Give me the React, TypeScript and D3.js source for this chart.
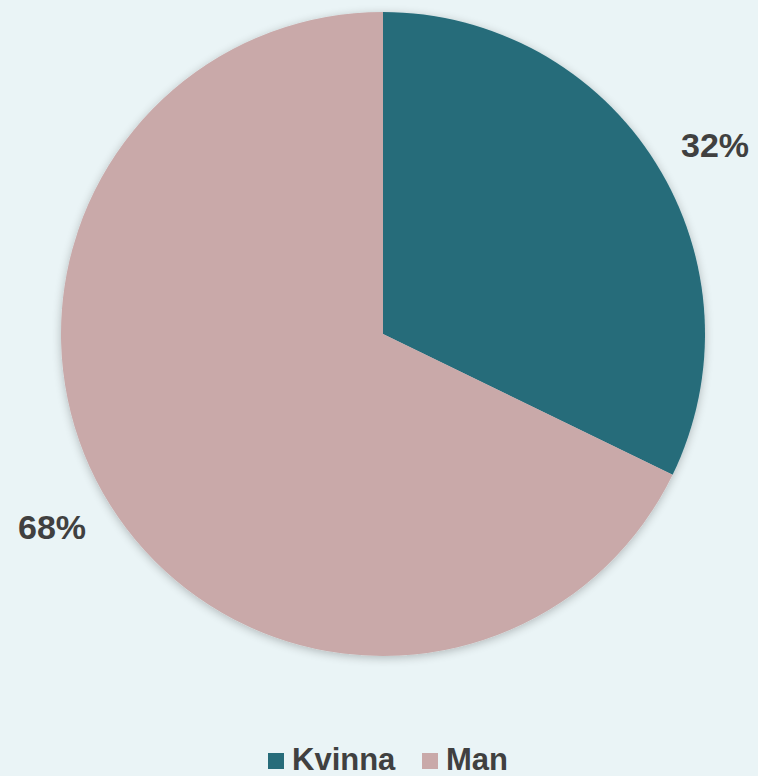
import React from "react";
import * as d3 from "d3";

const categories = ["Kvinna", "Man"];
const values = [32.2, 67.8];
const colors = ["#276C7A", "#C9A9A9"];

const W = 758;
const H = 776;
const cx = 383;
const cy = 334;
const R = 322;

export default function App() {
  const pie = d3.pie<number>().sort(null).value((d) => d)(values);
  const arc = d3.arc<d3.PieArcDatum<number>>().innerRadius(0).outerRadius(R);
  const total = d3.sum(values);
  const font = "'Liberation Sans', Arial, sans-serif";
  const legendX = [268, 422];
  const labelPos = [
    [715, 157],
    [52, 539],
  ];
  return (
    <div style={{ position: "absolute", left: 0, top: 0 }}>
      <svg width={W} height={H} style={{ display: "block" }}>
        <defs>
          <filter id="sh" x="-20%" y="-20%" width="140%" height="140%">
            <feGaussianBlur in="SourceAlpha" stdDeviation="5" />
            <feOffset dx="0" dy="2" result="b" />
            <feComponentTransfer>
              <feFuncA type="linear" slope="0.25" />
            </feComponentTransfer>
            <feMerge>
              <feMergeNode />
              <feMergeNode in="SourceGraphic" />
            </feMerge>
          </filter>
        </defs>
        <rect width={W} height={H} fill="#EAF4F6" />
        <g transform={`translate(${cx},${cy})`} filter="url(#sh)">
          {pie.map((p, i) => (
            <path key={categories[i]} d={arc(p) || ""} fill={colors[i]} />
          ))}
        </g>
        {values.map((v, i) => (
          <text
            key={categories[i]}
            x={labelPos[i][0]}
            y={labelPos[i][1]}
            textAnchor="middle"
            fontFamily={font}
            fontWeight="bold"
            fontSize={34}
            fill="#404040"
          >
            {Math.round((v / total) * 100)}%
          </text>
        ))}
        {categories.map((c, i) => (
          <g key={c}>
            <rect x={legendX[i]} y={753} width={16} height={16} fill={colors[i]} />
            <text x={legendX[i] + 24} y={770} fontFamily={font} fontWeight="bold" fontSize={31} fill="#404040">
              {c}
            </text>
          </g>
        ))}
      </svg>
    </div>
  );
}
